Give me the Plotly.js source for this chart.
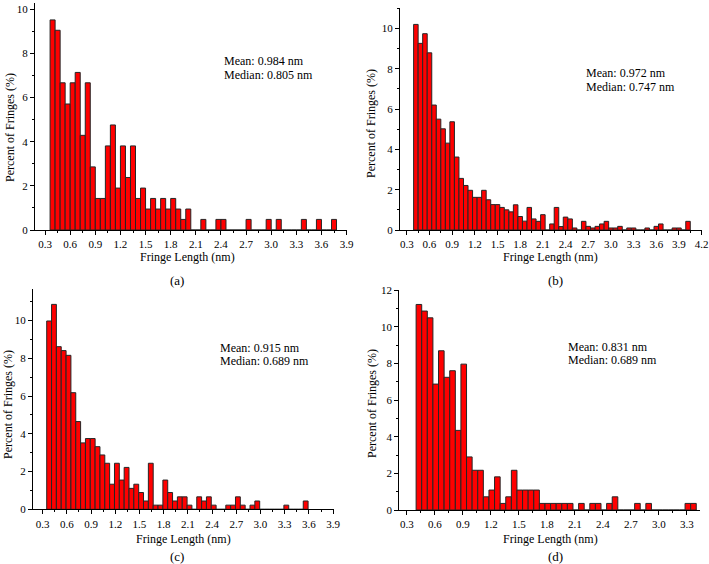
<!DOCTYPE html>
<html>
<head>
<meta charset="utf-8">
<script src="https://cdn.plot.ly/plotly-3.0.1.min.js"></script>
<style>html,body{margin:0;padding:0;background:#fff;}#chart{width:709px;height:564px;}</style>
</head>
<body>
<div id="chart"></div>
<script>
// Bin width (nm) and first-bin centres for each panel
const binWidth = 0.06;
const firstCenterA = 0.39;
const firstCenterB = 0.42;
const firstCenterC = 0.38;
const firstCenterD = 0.43;

// Percent of fringes per bin
const valuesA = [9.52, 9.05, 6.67, 5.71, 6.67, 7.14, 4.29, 6.67, 2.86, 1.43,
  1.43, 3.81, 4.76, 1.90, 3.81, 2.38, 3.81, 1.43, 1.90, 0.95,
  1.43, 0.95, 1.43, 0.95, 1.43, 0.95, 0.48, 0.95, 0, 0,
  0.48, 0, 0, 0.48, 0.48, 0, 0, 0, 0, 0.48,
  0, 0, 0, 0.48, 0, 0.48, 0, 0, 0, 0,
  0.48, 0, 0, 0.48, 0, 0, 0.48];
const valuesB = [10.2, 9.26, 9.74, 8.79, 6.2, 5.5, 5.02, 4.31, 5.37, 3.62,
  2.56, 2.21, 1.97, 1.62, 1.62, 1.97, 1.50, 1.26, 1.26, 1.12,
  1.0, 0.9, 1.25, 0.67, 0.44, 1.12, 0.55, 0.43, 0.76, 0,
  0.3, 1.12, 0.17, 0.64, 0.55, 0.1, 0, 0.43, 0.18, 0.1,
  0.18, 0.3, 0.43, 0.1, 0.1, 0.18, 0, 0.1, 0.1, 0,
  0, 0.1, 0, 0.18, 0.3, 0, 0, 0.1, 0.1, 0, 0.43];
const valuesC = [9.98, 10.86, 8.62, 8.41, 8.16, 6.18, 4.65, 3.52, 3.75, 3.75,
  3.32, 2.88, 2.44, 1.33, 2.44, 1.55, 2.22, 1.11, 1.33, 0.89,
  0.44, 2.44, 0.22, 0.22, 1.55, 0.89, 0.44, 0.66, 0.66, 0.22,
  0, 0.66, 0.44, 0.66, 0.22, 0, 0, 0.22, 0.22, 0.66,
  0.22, 0, 0.22, 0.44, 0, 0, 0, 0, 0, 0.22,
  0, 0, 0, 0.44];
const valuesD = [11.23, 10.87, 10.5, 6.88, 8.7, 7.25, 7.61, 4.35, 7.97, 2.9,
  2.17, 2.17, 0.72, 1.09, 1.81, 0.36, 0.72, 2.17, 1.09, 1.09,
  1.09, 1.09, 0.36, 0.36, 0.36, 0.36, 0.36, 0.36, 0, 0.36,
  0, 0.36, 0.36, 0, 0.36, 0.72, 0, 0, 0, 0.36,
  0, 0.36, 0, 0, 0, 0, 0, 0, 0.36, 0.36];

const panelLabels = ['(a)', '(b)', '(c)', '(d)'];
const meanTexts = ['Mean: 0.984 nm', 'Mean: 0.972 nm', 'Mean: 0.915 nm', 'Mean: 0.831 nm'];
const medianTexts = ['Median: 0.805 nm', 'Median: 0.747 nm', 'Median: 0.689 nm', 'Median: 0.689 nm'];
const xTitle = 'Fringe Length (nm)';
const yTitle = 'Percent of Fringes (%)';

const W = 709, H = 564;
const fx = p => p / W;
const fy = p => 1 - p / H;
const FONT = 'Liberation Serif, Times New Roman, serif';

function centers(first, n) { return Array.from({length: n}, (_, i) => first + i * binWidth); }

function barTrace(vals, first, xa, ya) {
  return {
    type: 'bar', x: centers(first, vals.length), y: vals, width: binWidth,
    xaxis: xa, yaxis: ya,
    marker: {color: '#ff0000', line: {color: '#262626', width: 1}},
    hoverinfo: 'x+y'
  };
}

const data = [
  barTrace(valuesA, firstCenterA, 'x', 'y'),
  barTrace(valuesB, firstCenterB, 'x2', 'y2'),
  barTrace(valuesC, firstCenterC, 'x3', 'y3'),
  barTrace(valuesD, firstCenterD, 'x4', 'y4')
];

function xax(left, right, range, anchor) {
  return {
    domain: [fx(left), fx(right)], range: range, anchor: anchor,
    tick0: 0.3, dtick: 0.3, tickformat: '.1f',
    ticks: 'outside', ticklen: 4, tickwidth: 1, tickcolor: '#000',
    showline: true, linecolor: '#000', linewidth: 1,
    showgrid: false, zeroline: false,
    tickfont: {family: FONT, size: 11, color: '#000'},
    minor: {ticks: 'outside', ticklen: 2, tickwidth: 1, tickcolor: '#000', dtick: 0.15, tick0: 0.3, showgrid: false}
  };
}
function yax(top, bottom, range, anchor) {
  return {
    domain: [fy(bottom), fy(top)], range: range, anchor: anchor,
    tick0: 0, dtick: 2,
    ticks: 'outside', ticklen: 4, tickwidth: 1, tickcolor: '#000',
    showline: true, linecolor: '#000', linewidth: 1,
    showgrid: false, zeroline: false,
    tickfont: {family: FONT, size: 11, color: '#000'},
    minor: {ticks: 'outside', ticklen: 2, tickwidth: 1, tickcolor: '#000', dtick: 1, showgrid: false}
  };
}

function txt(text, x, y, opts) {
  return Object.assign({
    text: text, x: fx(x), y: fy(y), xref: 'paper', yref: 'paper',
    showarrow: false, xanchor: 'center', yanchor: 'middle',
    font: {family: FONT, size: 12, color: '#000'}
  }, opts || {});
}

const annotations = [
  // Mean / median
  txt(meanTexts[0], 222, 61, {xanchor: 'left'}),
  txt(medianTexts[0], 222, 75, {xanchor: 'left'}),
  txt(meanTexts[1], 584, 73, {xanchor: 'left'}),
  txt(medianTexts[1], 584, 87, {xanchor: 'left'}),
  txt(meanTexts[2], 218, 348, {xanchor: 'left'}),
  txt(medianTexts[2], 218, 361, {xanchor: 'left'}),
  txt(meanTexts[3], 566, 347, {xanchor: 'left'}),
  txt(medianTexts[3], 566, 360, {xanchor: 'left'}),
  // x titles
  txt(xTitle, 188, 257),
  txt(xTitle, 550, 257),
  txt(xTitle, 183, 539),
  txt(xTitle, 550, 539),
  // y titles
  txt(yTitle, 10, 128, {textangle: -90}),
  txt(yTitle, 371, 124, {textangle: -90}),
  txt(yTitle, 8, 405, {textangle: -90}),
  txt(yTitle, 372, 404, {textangle: -90}),
  // panel labels
  txt(panelLabels[0], 177, 280, {font: {family: FONT, size: 13, color: '#000'}}),
  txt(panelLabels[1], 555, 280, {font: {family: FONT, size: 13, color: '#000'}}),
  txt(panelLabels[2], 177, 556, {font: {family: FONT, size: 13, color: '#000'}}),
  txt(panelLabels[3], 555, 556, {font: {family: FONT, size: 13, color: '#000'}})
];

const layout = {
  width: W, height: H,
  margin: {l: 0, r: 0, t: 0, b: 0},
  paper_bgcolor: '#fff', plot_bgcolor: '#fff',
  showlegend: false, bargap: 0,
  xaxis: xax(35, 347, [0.18, 3.905], 'y'),
  yaxis: yax(2.7, 230, [0, 10.3], 'x'),
  xaxis2: xax(400, 702, [0.21, 4.205], 'y2'),
  yaxis2: yax(8.3, 230, [0, 11], 'x2'),
  xaxis3: xax(33, 333.5, [0.18, 3.905], 'y3'),
  yaxis3: yax(289.3, 509.3, [0, 11.66], 'x3'),
  xaxis4: xax(399.3, 700, [0.22, 3.44], 'y4'),
  yaxis4: yax(290, 510, [0, 12.02], 'x4'),
  annotations: annotations
};

Plotly.newPlot('chart', data, layout, {staticPlot: true, displayModeBar: false});
</script>
</body>
</html>
